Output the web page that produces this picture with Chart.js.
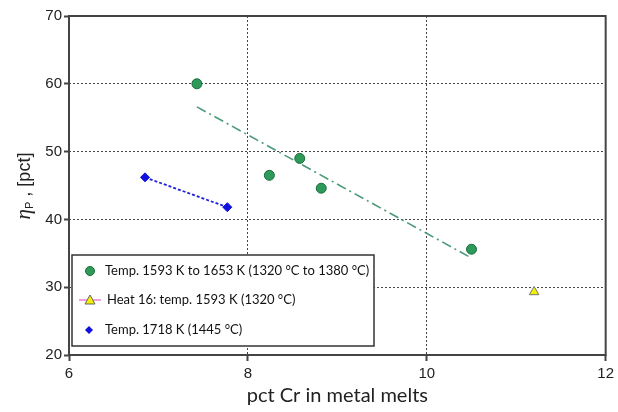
<!DOCTYPE html>
<html><head><meta charset="utf-8">
<script src="https://cdn.jsdelivr.net/npm/chart.js@4/dist/chart.umd.min.js"></script>
<style>html,body{margin:0;padding:0;background:#fff}#wrap{width:618px;height:412px}</style>
</head><body><div id="wrap"><canvas id="c" width="618" height="412"></canvas></div>
<script>
const seriesNames = ["Temp. 1593 K to 1653 K (1320 °C to 1380 °C)", "Heat 16: temp. 1593 K (1320 °C)", "Temp. 1718 K (1445 °C)"];
const greenX = [7.43, 8.24, 8.58, 8.82, 10.5];
const greenY = [60.0, 46.5, 49.0, 44.6, 35.6];
const heatX = [11.2];
const heatY = [29.3];
const blueX = [6.85, 7.77];
const blueY = [46.2, 41.8];
const trendX = [7.43, 10.5];
const trendY = [56.6, 34.3];
const xTicks = [6, 8, 10, 12];
const yTicks = [20, 30, 40, 50, 60, 70];
const xTitle = "pct Cr in metal melts";
const yTitleMain = "η", yTitleSub = "P", yTitleRest = " , [pct]";

const pts = (xs, ys) => xs.map((x, i) => ({x, y: ys[i]}));

const frame = {
  id: 'frame',
  afterDatasetsDraw(chart) {
    const {ctx, chartArea: a} = chart;
    ctx.save();
    ctx.strokeStyle = '#444';
    ctx.lineWidth = 2;
    ctx.strokeRect(a.left, a.top, a.right - a.left, a.bottom - a.top);
    // legend box
    const lx = 72, ly = 255, lw = 302, lh = 91;
    ctx.fillStyle = '#fff';
    ctx.fillRect(lx, ly, lw, lh);
    ctx.lineWidth = 1.5;
    ctx.strokeStyle = '#333';
    ctx.strokeRect(lx, ly, lw, lh);
    ctx.font = '13px Lato, "Open Sans", sans-serif';
    ctx.fillStyle = '#111';
    ctx.textBaseline = 'middle';
    const rows = [271, 300, 330];
    // green circle
    ctx.beginPath(); ctx.arc(90, rows[0], 4.5, 0, Math.PI * 2);
    ctx.fillStyle = '#2e9a5a'; ctx.fill(); ctx.strokeStyle = '#1b6b3a'; ctx.lineWidth = 1; ctx.stroke();
    // pink line with triangle
    ctx.beginPath(); ctx.moveTo(79, rows[1]); ctx.lineTo(101, rows[1]);
    ctx.strokeStyle = '#e040c0'; ctx.lineWidth = 1; ctx.stroke();
    ctx.beginPath(); ctx.moveTo(90, rows[1] - 5); ctx.lineTo(95, rows[1] + 4); ctx.lineTo(85, rows[1] + 4); ctx.closePath();
    ctx.fillStyle = '#f2f200'; ctx.fill(); ctx.strokeStyle = '#666'; ctx.stroke();
    // blue diamond
    ctx.beginPath(); ctx.moveTo(89, rows[2] - 4); ctx.lineTo(93, rows[2]); ctx.lineTo(89, rows[2] + 4); ctx.lineTo(85, rows[2]); ctx.closePath();
    ctx.fillStyle = '#1010e0'; ctx.fill();
    ctx.fillStyle = '#111';
    ctx.fillText(seriesNames[0], 105, rows[0]);
    ctx.fillText(seriesNames[1], 107, rows[1]);
    ctx.fillText(seriesNames[2], 105, rows[2]);
    // y title
    ctx.save();
    ctx.translate(24, 186);
    ctx.rotate(-Math.PI / 2);
    ctx.fillStyle = '#222';
    ctx.textBaseline = 'alphabetic';
    const f1 = 'italic 21px "Liberation Serif", serif';
    const f2 = '11px "Liberation Sans", sans-serif';
    const f3 = '18px "Liberation Sans", Arial, sans-serif';
    ctx.font = f1; const w1 = ctx.measureText(yTitleMain).width;
    ctx.font = f2; const w2 = ctx.measureText(yTitleSub).width;
    ctx.font = f3; const w3 = ctx.measureText(yTitleRest).width;
    let x0 = -(w1 + w2 + w3) / 2;
    ctx.font = f1; ctx.fillText(yTitleMain, x0, 6); x0 += w1;
    ctx.font = f2; ctx.fillText(yTitleSub, x0, 9); x0 += w2;
    ctx.font = f3; ctx.fillText(yTitleRest, x0, 6);
    ctx.restore();
    ctx.restore();
  }
};

new Chart(document.getElementById('c'), {
  type: 'scatter',
  data: {
    datasets: [
      {label: 'trend', data: pts(trendX, trendY), showLine: true, borderColor: '#4a9a78', borderWidth: 1.6,
       borderDash: [10, 4, 2, 4], pointRadius: 0, order: 5},
      {label: 'blueline', data: pts(blueX, blueY), showLine: true, borderColor: '#2020e0', borderWidth: 1.8,
       borderDash: [3, 2], pointRadius: 0, order: 4},
      {label: seriesNames[0], data: pts(greenX, greenY), pointStyle: 'circle', pointRadius: 5,
       backgroundColor: '#2e9a5a', borderColor: '#1b6b3a', borderWidth: 1},
      {label: seriesNames[1], data: pts(heatX, heatY), pointStyle: 'triangle', pointRadius: 5.5,
       backgroundColor: '#f2f200', borderColor: '#777', borderWidth: 1},
      {label: seriesNames[2], data: pts(blueX, blueY), pointStyle: 'rectRot', pointRadius: 4.5,
       backgroundColor: '#1010e0', borderColor: '#1010e0', borderWidth: 1}
    ]
  },
  options: {
    responsive: false, animation: false,
    layout: {padding: {top: 16, right: 8, left: 0, bottom: 0}},
    plugins: {legend: {display: false}, tooltip: {enabled: false}},
    scales: {
      x: {
        type: 'linear', min: 6, max: 12,
        afterBuildTicks: s => { s.ticks = xTicks.map(v => ({value: v})); },
        afterFit: s => { s.height = 57; },
        border: {display: false, dash: [2, 2]},
        grid: {color: c => (c.tick && (c.tick.value === 6 || c.tick.value === 12)) ? 'rgba(0,0,0,0)' : '#444',
               lineWidth: 1, drawTicks: true, tickLength: 6, tickColor: '#444', tickWidth: 2, tickBorderDash: []},
        ticks: {color: '#222', font: {family: '"Liberation Sans", Arial, sans-serif', size: 15}, padding: 4},
        title: {display: true, text: xTitle, color: '#222', font: {family: 'Lato, "Open Sans", sans-serif', size: 20}, padding: {top: 2}}
      },
      y: {
        type: 'linear', min: 20, max: 70,
        afterBuildTicks: s => { s.ticks = yTicks.map(v => ({value: v})); },
        afterFit: s => { s.width = 69; },
        border: {display: false, dash: [2, 2]},
        grid: {color: c => (c.tick && (c.tick.value === 20 || c.tick.value === 70)) ? 'rgba(0,0,0,0)' : '#444',
               lineWidth: 1, drawTicks: true, tickLength: 5, tickColor: '#444', tickWidth: 2, tickBorderDash: []},
        ticks: {color: '#222', font: {family: '"Liberation Sans", Arial, sans-serif', size: 15}, padding: 2}
      }
    }
  },
  plugins: [frame]
});
</script></body></html>
